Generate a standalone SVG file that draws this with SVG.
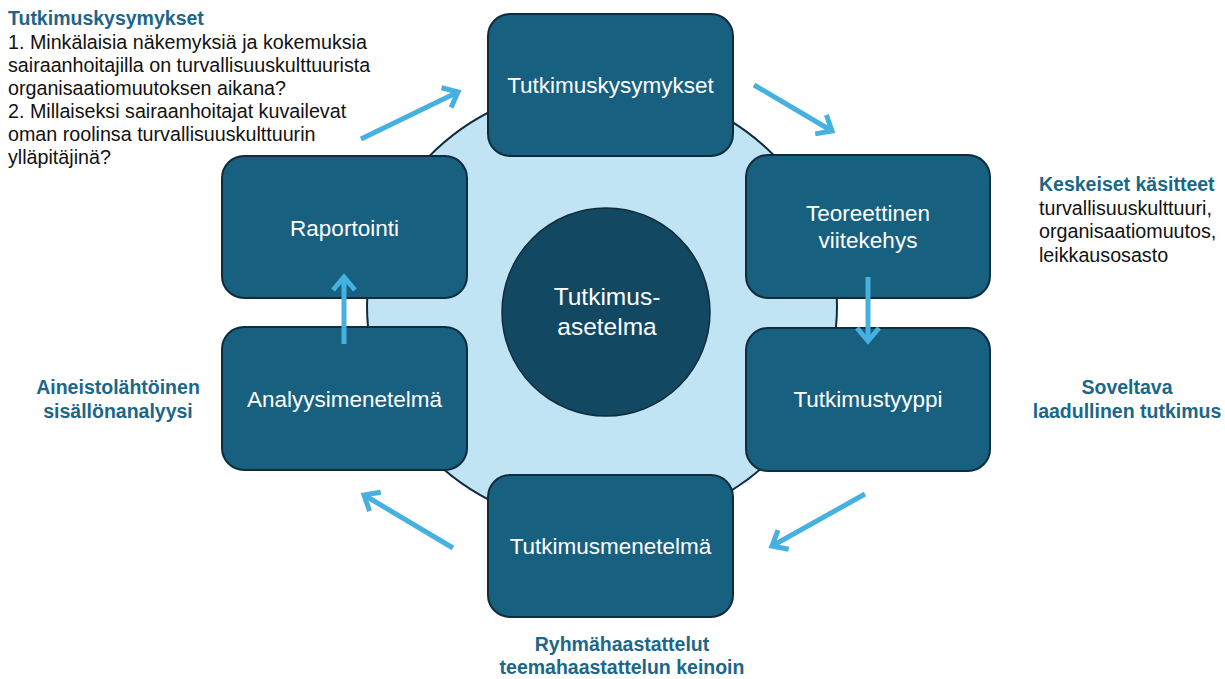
<svg xmlns="http://www.w3.org/2000/svg" width="1225" height="679" viewBox="0 0 1225 679">
<defs>
<style>
.box{fill:#18607F;stroke:#0E2C3C;stroke-width:2}
.bt{font-family:"Liberation Sans",Arial,sans-serif;font-size:22.5px;fill:#ffffff;text-anchor:middle}
.ct{font-family:"Liberation Sans",Arial,sans-serif;font-size:24.5px;fill:#ffffff;text-anchor:middle}
.hd{font-family:"Liberation Sans",Arial,sans-serif;font-size:19.5px;font-weight:bold;fill:#1B6689}
.bd{font-family:"Liberation Sans",Arial,sans-serif;font-size:19.7px;fill:#111111}
.arr{stroke:#46B1E1;stroke-width:5;fill:none;marker-end:url(#ah)}
</style>
<marker id="ah" markerUnits="userSpaceOnUse" markerWidth="40" markerHeight="40" viewBox="-20 -20 40 40" refX="0" refY="0" orient="auto">
<path d="M-13,-11 L0,0 L-13,11" fill="none" stroke="#46B1E1" stroke-width="5" stroke-linejoin="miter"/>
</marker>
</defs>
<rect width="1225" height="679" fill="#ffffff"/>
<g id="ring">
<ellipse cx="602" cy="306" rx="235" ry="221" fill="#C1E4F5" stroke="#0E2C3C" stroke-width="2"/>
</g>
<g id="center">
<circle cx="606" cy="312" r="104" fill="#124862" stroke="#0E2C3C" stroke-width="1.5"/>
<text class="ct" x="607" y="305">Tutkimus-</text>
<text class="ct" x="607" y="335">asetelma</text>
</g>
<g id="n-tutkimuskysymykset">
<rect class="box" x="488" y="14" width="245" height="142" rx="22"/>
<text class="bt" x="610.5" y="93">Tutkimuskysymykset</text>
</g>
<g id="n-teoreettinen">
<rect class="box" x="746" y="155" width="244" height="143" rx="22"/>
<text class="bt" x="868" y="221">Teoreettinen</text>
<text class="bt" x="868" y="248">viitekehys</text>
</g>
<g id="n-tutkimustyyppi">
<rect class="box" x="746" y="328" width="244" height="143" rx="22"/>
<text class="bt" x="868" y="407">Tutkimustyyppi</text>
</g>
<g id="n-tutkimusmenetelma">
<rect class="box" x="488" y="475" width="245" height="142" rx="22"/>
<text class="bt" x="610.5" y="554">Tutkimusmenetelmä</text>
</g>
<g id="n-analyysimenetelma">
<rect class="box" x="222" y="327" width="245" height="143" rx="22"/>
<text class="bt" x="344.5" y="407">Analyysimenetelmä</text>
</g>
<g id="n-raportointi">
<rect class="box" x="222" y="156" width="245" height="142" rx="22"/>
<text class="bt" x="344.5" y="236">Raportointi</text>
</g>
<g id="connectors">
<line class="arr" x1="361" y1="139" x2="458" y2="92"/>
<line class="arr" x1="754" y1="85" x2="832" y2="131"/>
<line class="arr" x1="868" y1="277" x2="868" y2="341"/>
<line class="arr" x1="865" y1="494" x2="772" y2="546"/>
<line class="arr" x1="453" y1="548" x2="364" y2="495"/>
<line class="arr" x1="344" y1="344" x2="344" y2="277"/>
</g>
<g id="label-tutkimuskysymykset">
<text class="hd" x="8" y="25">Tutkimuskysymykset</text>
<text class="bd" x="8" y="49">1. Minkälaisia näkemyksiä ja kokemuksia</text>
<text class="bd" x="8" y="72">sairaanhoitajilla on turvallisuuskulttuurista</text>
<text class="bd" x="8" y="95">organisaatiomuutoksen aikana?</text>
<text class="bd" x="8" y="118">2. Millaiseksi sairaanhoitajat kuvailevat</text>
<text class="bd" x="8" y="141">oman roolinsa turvallisuuskulttuurin</text>
<text class="bd" x="8" y="164">ylläpitäjinä?</text>
</g>
<g id="label-keskeiset">
<text class="hd" x="1039" y="191">Keskeiset käsitteet</text>
<text class="bd" x="1039" y="215">turvallisuuskulttuuri,</text>
<text class="bd" x="1039" y="238">organisaatiomuutos,</text>
<text class="bd" x="1039" y="262">leikkausosasto</text>
</g>
<g id="label-soveltava">
<text class="hd" x="1127" y="394" text-anchor="middle">Soveltava</text>
<text class="hd" x="1127" y="418" text-anchor="middle">laadullinen tutkimus</text>
</g>
<g id="label-aineisto">
<text class="hd" x="118" y="394" text-anchor="middle">Aineistolähtöinen</text>
<text class="hd" x="118" y="418" text-anchor="middle">sisällönanalyysi</text>
</g>
<g id="label-ryhma">
<text class="hd" x="622" y="651" text-anchor="middle">Ryhmähaastattelut</text>
<text class="hd" x="622" y="674" text-anchor="middle">teemahaastattelun keinoin</text>
</g>
</svg>
